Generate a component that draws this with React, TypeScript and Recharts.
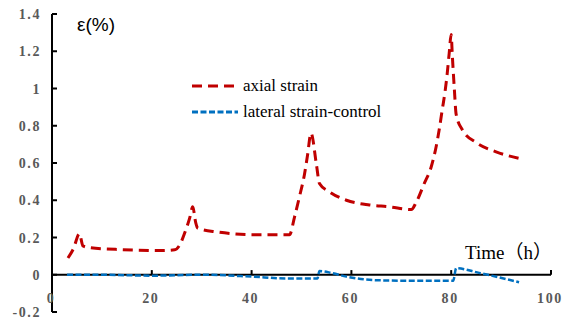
import React from 'react';
import {
  LineChart,
  Line,
  XAxis,
  YAxis,
  ReferenceLine
} from 'recharts';

// Axial strain (time in hours, strain in %)
const axialHours = [
  3.2, 4.3, 5.5, 6.2, 7.6, 14, 22, 24.6, 25.6, 26.6, 27.6, 28.2, 28.8, 29.2, 33, 41,
  47.6, 48.6, 49.6, 50.6, 51.2, 51.9, 53, 53.6, 55.6, 59, 63.6, 67.6, 72, 73, 74.6,
  76, 77, 77.6, 78.2, 78.8, 79.2, 79.6, 80, 80.2, 80.6, 81, 82.2, 85, 89, 93.6
];
const axialStrain = [
  0.09, 0.14, 0.22, 0.155, 0.145, 0.135, 0.13, 0.134, 0.16, 0.225, 0.305, 0.365, 0.28, 0.25, 0.23, 0.215,
  0.215, 0.31, 0.42, 0.54, 0.64, 0.76, 0.59, 0.49, 0.445, 0.4, 0.375, 0.365, 0.35, 0.39, 0.49,
  0.58, 0.69, 0.78, 0.885, 0.99, 1.08, 1.19, 1.29, 1.19, 1.01, 0.86, 0.78, 0.71, 0.66, 0.625
];

// Lateral strain-control
const lateralHours = [3, 10, 20, 30, 40, 47, 53.2, 53.6, 56, 59, 65.6, 72, 80.4, 81, 85.6, 93.6];
const lateralStrain = [0, 0, -0.005, 0, -0.01, -0.02, -0.02, 0.02, 0.01, -0.01, -0.03, -0.032, -0.032, 0.035, 0.01, -0.04];

const xTicks = [0, 20, 40, 60, 80, 100];
const yTicks = [-0.2, 0, 0.2, 0.4, 0.6, 0.8, 1, 1.2, 1.4];

const axialData = axialHours.map((h, i) => ({ h, v: axialStrain[i] }));
const lateralData = lateralHours.map((h, i) => ({ h, v: lateralStrain[i] }));

const RED = '#C00000';
const BLUE = '#0070C0';
const SERIF = '"Liberation Serif", "Times New Roman", "Noto Sans CJK SC", serif';
const tickFont = {
  fontFamily: SERIF,
  fontWeight: 700,
  fontSize: 14,
  letterSpacing: 1.6,
  fill: '#595959'
};

function YTick({ x, y, payload }: any) {
  return (
    <text x={x - 3} y={y} dy={5} textAnchor="end" {...tickFont}>
      {payload.value}
    </text>
  );
}

function XTick({ x, y, payload }: any) {
  return (
    <text x={x - 1} y={y} dy={-17} textAnchor="middle" {...tickFont}>
      {payload.value}
    </text>
  );
}

function LegendRow({ color, dash, label }: any) {
  return (
    <div style={{ display: 'flex', alignItems: 'center', height: 26 }}>
      <svg width={50} height={6}>
        <line x1={2} y1={3} x2={48} y2={3} stroke={color} strokeWidth={3} strokeDasharray={dash} />
      </svg>
      <span style={{ marginLeft: 3, fontFamily: SERIF, fontSize: 17, color: '#000', whiteSpace: 'nowrap' }}>
        {label}
      </span>
    </div>
  );
}

export default function App() {
  return (
    <div style={{ position: 'absolute', left: 0, top: 0, width: 564, height: 321, background: '#fff' }}>
      <LineChart width={564} height={321} margin={{ top: 14, right: 13, bottom: 8, left: 0 }}>
        <XAxis
          type="number"
          dataKey="h"
          domain={[0, 100]}
          ticks={xTicks}
          height={1}
          axisLine={false}
          tickLine={false}
          tick={<XTick />}
          interval={0}
        />
        <YAxis
          type="number"
          domain={[-0.2, 1.4]}
          ticks={yTicks}
          width={52}
          axisLine={{ stroke: '#000', strokeWidth: 2 }}
          tickLine={false}
          tick={<YTick />}
          interval={0}
        />
        <ReferenceLine y={0} stroke="#000" strokeWidth={2} />
        {xTicks.slice(1).map((t) => (
          <ReferenceLine key={'xt' + t} segment={[{ x: t, y: 0 }, { x: t, y: 0.025 }]} stroke="#000" strokeWidth={2} />
        ))}
        {yTicks.map((t) => (
          <ReferenceLine key={'yt' + t} segment={[{ x: 0, y: t }, { x: 1, y: t }]} stroke="#000" strokeWidth={2} />
        ))}
        <Line
          data={axialData}
          dataKey="v"
          type="monotone"
          stroke={RED}
          strokeWidth={3}
          strokeDasharray="10 6"
          dot={false}
          isAnimationActive={false}
          name="axial strain"
        />
        <Line
          data={lateralData}
          dataKey="v"
          type="monotone"
          stroke={BLUE}
          strokeWidth={2.5}
          strokeDasharray="6 2.5"
          dot={false}
          isAnimationActive={false}
          name="lateral strain-control"
        />
      </LineChart>
      <div style={{ position: 'absolute', left: 190, top: 73 }}>
        <LegendRow color={RED} dash="10 6" label="axial strain" />
        <LegendRow color={BLUE} dash="6 2.5" label="lateral strain-control" />
      </div>
      <div
        style={{
          position: 'absolute',
          left: 77,
          top: 14,
          fontFamily: 'Arial, "Liberation Sans", sans-serif',
          fontSize: 19,
          color: '#000'
        }}
      >
        ε(%)
      </div>
      <div
        style={{
          position: 'absolute',
          left: 465,
          top: 237,
          fontFamily: SERIF,
          fontSize: 19,
          color: '#000',
          whiteSpace: 'nowrap'
        }}
      >
        Time（h）
      </div>
    </div>
  );
}
